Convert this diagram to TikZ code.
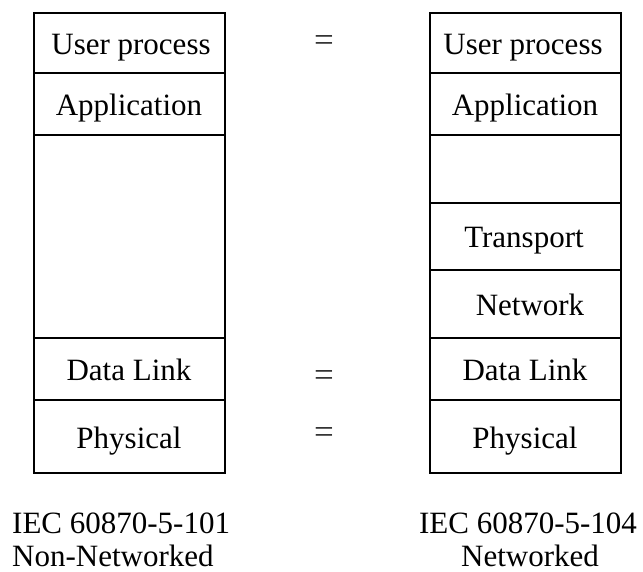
\documentclass[tikz,border=0pt]{standalone}
\usepackage{fontspec}
\setmainfont{Liberation Serif}
\begin{document}
\begin{tikzpicture}[x=1pt,y=-1pt,
  layer/.style={draw=black,line width=2.4pt},
  lbl/.style={anchor=base,inner sep=0pt,font=\fontsize{31}{36}\selectfont},
  eqsign/.style={anchor=base,inner sep=0pt,font=\fontsize{35}{40}\selectfont,text=black!80}]
\useasboundingbox (0,0) rectangle (643,572);

% left stack: IEC 60870-5-101
\draw[layer] (34,13) rectangle (225,473);
\foreach \yy in {73,135,338,400} \draw[layer] (34,\yy) -- (225,\yy);
\node[lbl] (l1) at (131,55) {User process};
\node[lbl] (l2) at (129,116) {Application};
\node[lbl] (l3) at (129,380) {Data Link};
\node[lbl] (l4) at (129,448) {Physical};

% right stack: IEC 60870-5-104
\draw[layer] (430,13) rectangle (621,473);
\foreach \yy in {73,135,203,270,338,400} \draw[layer] (430,\yy) -- (621,\yy);
\node[lbl] (r1) at (523,55) {User process};
\node[lbl] (r2) at (525,116) {Application};
\node[lbl] (r3) at (524,248) {Transport};
\node[lbl] (r4) at (530,316) {Network};
\node[lbl] (r5) at (525,380) {Data Link};
\node[lbl] (r6) at (525,448) {Physical};

% equivalences between the stacks
\node[eqsign] (e1) at (324,52) {=};
\node[eqsign] (e2) at (324,386) {=};
\node[eqsign] (e3) at (324,443) {=};

% captions
\node[lbl,anchor=base west] (c1) at (12,533) {IEC 60870-5-101};
\node[lbl,anchor=base west] (c2) at (12,566) {Non-Networked};
\node[lbl] (c3) at (528,533) {IEC 60870-5-104};
\node[lbl] (c4) at (530,566) {Networked};
\end{tikzpicture}
\end{document}
